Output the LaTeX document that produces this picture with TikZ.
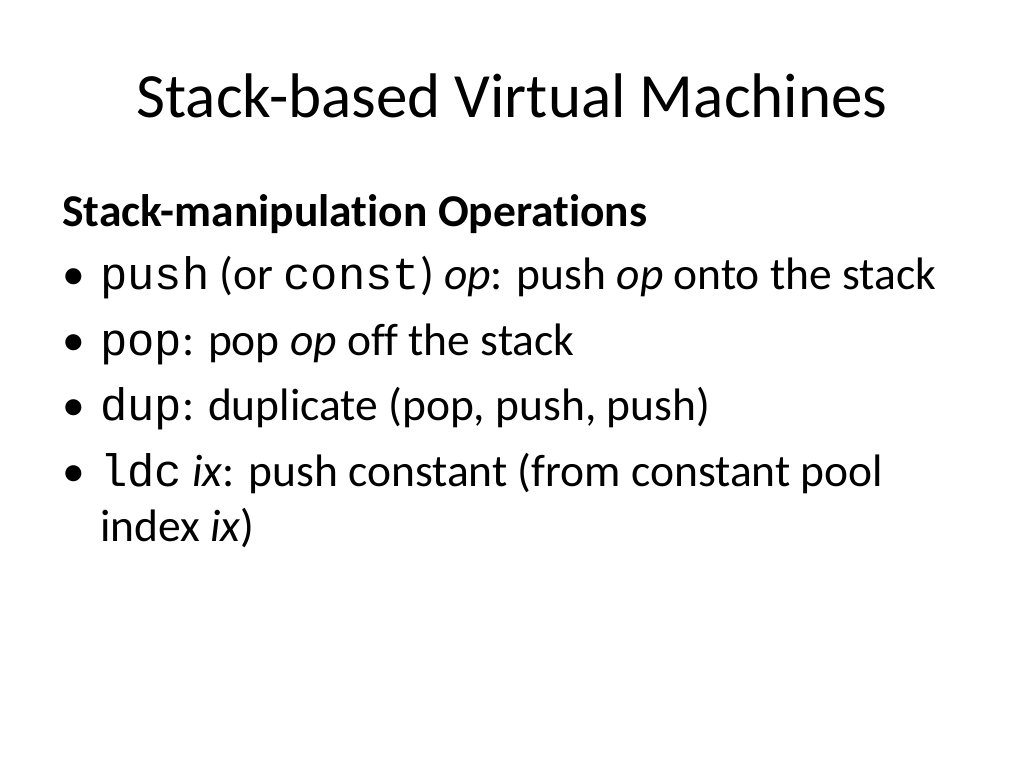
\documentclass[tikz,border=0pt]{standalone}
\usepackage{fontspec}
\setmainfont{Carlito}[Ligatures=NoCommon]
\setmonofont{Liberation Mono}
\begin{document}
\begin{tikzpicture}[x=1pt,y=-1pt,
  body/.style={anchor=base west,inner sep=0pt,font=\fontsize{45.5}{52}\selectfont},
  bul/.style={anchor=base west,inner sep=0pt,font=\fontsize{45.5}{52}\selectfont}]
\useasboundingbox (0,0) rectangle (1024,768);
\node[anchor=base,inner sep=0pt,font=\fontsize{63}{72}\selectfont] (title) at (512,117) {Stack-based Virtual Machines};
\node[body] (head) at (62,226) {\textbf{Stack-manipulation Operations}};
\node[bul] (b1) at (62,289) {\symbol{"2022}};
\node[body] (t1) at (100,289) {\texttt{push} (or \texttt{const}) \textit{op}: push \textit{op} onto the stack};
\node[bul] (b2) at (62,355) {\symbol{"2022}};
\node[body] (t2) at (100,355) {\texttt{pop}: pop \textit{op} off the stack};
\node[bul] (b3) at (62,420) {\symbol{"2022}};
\node[body] (t3) at (100,420) {\texttt{dup}: duplicate (pop, push, push)};
\node[bul] (b4) at (62,486) {\symbol{"2022}};
\node[body] (t4) at (100,486) {\texttt{ldc} \textit{ix}: push constant (from constant pool};
\node[body] (t5) at (100,541) {index \textit{ix})};
\end{tikzpicture}
\end{document}
